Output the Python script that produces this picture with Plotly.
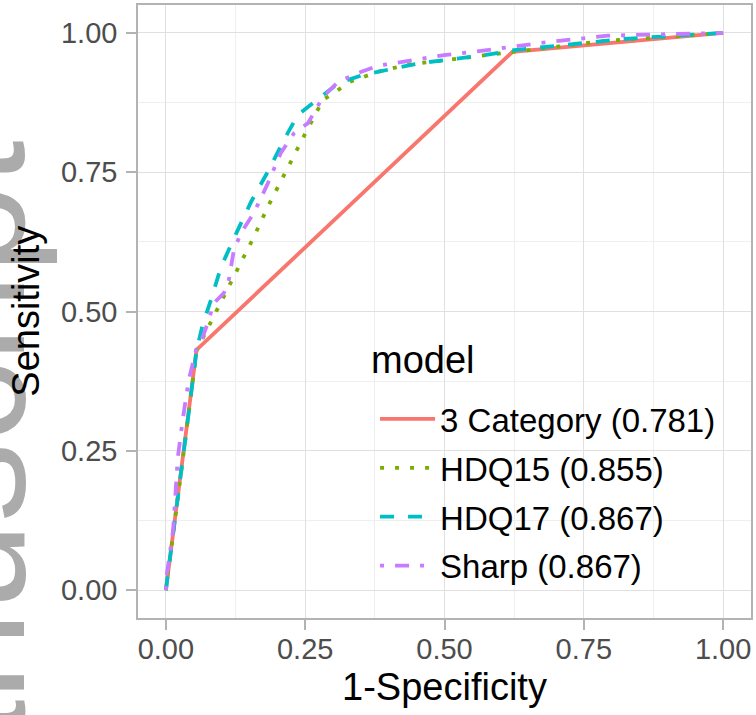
import plotly.graph_objects as go

# ---- data ----
models = ["3 Category (0.781)", "HDQ15 (0.855)", "HDQ17 (0.867)", "Sharp (0.867)"]

cat3_x = [0, 0.055, 0.622, 1]
cat3_y = [0, 0.431, 0.966, 1]

hdq15_x = [0, 0.02, 0.04, 0.055, 0.07, 0.09, 0.117, 0.144, 0.158, 0.183, 0.210, 0.224, 0.251,
           0.282, 0.302, 0.327, 0.380, 0.434, 0.499, 0.557, 0.62, 0.70, 0.793, 0.853, 0.92, 1]
hdq15_y = [0, 0.15, 0.31, 0.43, 0.46, 0.499, 0.551, 0.607, 0.634, 0.688, 0.742, 0.767, 0.821,
           0.880, 0.892, 0.911, 0.930, 0.943, 0.951, 0.959, 0.966, 0.975, 0.986, 0.989, 0.994, 1]

hdq17_x = [0, 0.02, 0.04, 0.055, 0.066, 0.081, 0.099, 0.129, 0.153, 0.183, 0.212, 0.237, 0.260,
           0.285, 0.31, 0.355, 0.458, 0.517, 0.571, 0.625, 0.70, 0.822, 0.90, 1]
hdq17_y = [0, 0.15, 0.31, 0.43, 0.476, 0.521, 0.580, 0.646, 0.697, 0.751, 0.808, 0.853, 0.871,
           0.89, 0.91, 0.925, 0.946, 0.953, 0.960, 0.969, 0.976, 0.989, 0.994, 1]

sharp_x = [0, 0.002, 0.013, 0.0215, 0.031, 0.041, 0.055, 0.066, 0.075, 0.086, 0.104, 0.113, 0.122,
           0.135, 0.158, 0.183, 0.206, 0.230, 0.255, 0.266, 0.282, 0.309, 0.345, 0.381, 0.445,
           0.499, 0.553, 0.673, 0.793, 0.90, 1]
sharp_y = [0, 0.03, 0.108, 0.239, 0.311, 0.377, 0.434, 0.454, 0.479, 0.515, 0.533, 0.557, 0.610,
           0.641, 0.677, 0.730, 0.784, 0.820, 0.838, 0.856, 0.885, 0.912, 0.928, 0.941, 0.951,
           0.960, 0.966, 0.982, 0.995, 0.998, 1]

tick_vals = [0, 0.25, 0.5, 0.75, 1.0]
tick_text = ["0.00", "0.25", "0.50", "0.75", "1.00"]
minor_vals = [0.125, 0.375, 0.625, 0.875]

colors = ["#F8766D", "#7CAE00", "#00BFC4", "#C77CFF"]
dashes = ["solid", "4px,11px", "14px,14px", "4px,11px,14px,11px"]
series = [(cat3_x, cat3_y), (hdq15_x, hdq15_y), (hdq17_x, hdq17_y), (sharp_x, sharp_y)]

FONT = "Liberation Sans, Arial, Helvetica, sans-serif"

fig = go.Figure()
for i, (name, (xs, ys), c, d) in enumerate(zip(models, series, colors, dashes)):
    fig.add_trace(go.Scatter(x=xs, y=ys, mode="lines", name=name, legendgroup=f"g{i}",
                             line=dict(color=c, width=3.8, dash=d)))

axis_common = dict(
    range=[-0.05, 1.05], tickmode="array", tickvals=tick_vals, ticktext=tick_text,
    ticks="outside", ticklen=10, tickwidth=1.5, tickcolor="#b3b3b3",
    showline=True, mirror=True, linecolor="#b3b3b3", linewidth=1.5,
    showgrid=True, gridcolor="#e0e0e0", gridwidth=1.3, zeroline=False,
    automargin=False,
    tickfont=dict(size=29, color="#4d4d4d", family=FONT),
    minor=dict(tickmode="array", tickvals=minor_vals, showgrid=True,
               gridcolor="#efefef", gridwidth=0.8),
)

fig.update_layout(
    width=756, height=715,
    margin=dict(l=138, r=5, t=5, b=97),
    paper_bgcolor="white", plot_bgcolor="white",
    font=dict(family=FONT, color="black"),
    xaxis=dict(axis_common, ticklabelstandoff=-6,
               title=dict(text="1-Specificity", font=dict(size=38, color="black"),
                          standoff=10)),
    yaxis=dict(axis_common, ticklabelstandoff=3),
    legend=dict(x=0.3867, y=0.3704, xanchor="left", yanchor="top",
                bgcolor="rgba(0,0,0,0)", borderwidth=0, itemwidth=55,
                tracegroupgap=3,
                font=dict(size=33, color="black")),
    showlegend=True,
)

# white legend panel (covers the grid as in the reference)
fig.add_shape(type="rect", xref="paper", yref="paper",
              x0=0.3507, x1=0.9494, y0=0.0212, y1=0.478,
              fillcolor="white", line=dict(width=0), layer="below")

# legend title
fig.add_annotation(text="model", xref="paper", yref="paper",
                   x=0.3769, y=0.4209, xanchor="left", yanchor="middle",
                   showarrow=False, font=dict(size=38, color="black", family=FONT))

# watermark (partially cut off at the left edge)
fig.add_annotation(text="Manuscript", xref="paper", yref="paper",
                   x=-0.276, y=0.142, xanchor="center", yanchor="middle",
                   textangle=-90, showarrow=False,
                   font=dict(size=160, color="#ababab", family=FONT))

# y axis title (drawn above the watermark)
fig.add_annotation(text="Sensitivity", xref="paper", yref="paper",
                   x=-0.184, y=0.5, xanchor="center", yanchor="middle",
                   textangle=-90, showarrow=False,
                   font=dict(size=38, color="black", family=FONT))

fig.write_html("out.html", config={"displayModeBar": False},
               post_script="document.body.style.margin='0px';")
